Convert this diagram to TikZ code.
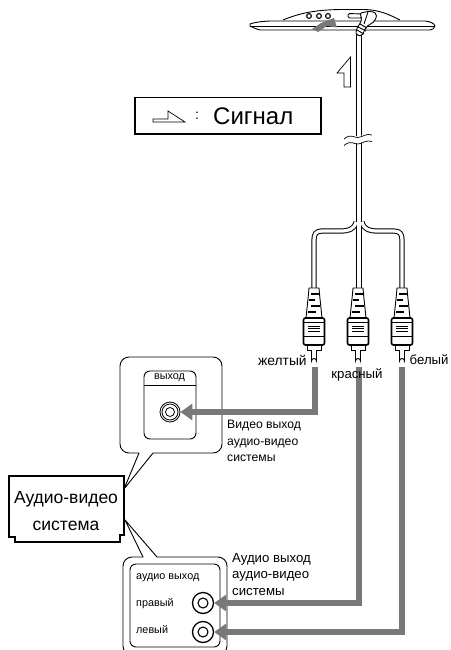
\documentclass[tikz,border=0pt]{standalone}
\usepackage{fontspec}
\setmainfont{Liberation Sans}
\usetikzlibrary{arrows.meta}
\definecolor{sig}{gray}{0.47}
\tikzset{
  lbl/.style={inner sep=0pt,anchor=west,font=\fontsize{13.2}{15}\selectfont},
  small/.style={inner sep=0pt,anchor=west,font=\fontsize{10.8}{12}\selectfont},
  signal/.style={draw=sig,line width=6pt,-{Triangle[length=12pt,width=16pt]}},
  line/.style={draw=black,line width=0.9pt},
  jackc/.style={circle,draw=black,line width=0.8pt,inner sep=0pt},
  plugpic/.pic={
    \draw[line,fill=white,line join=round] (-5,0) -- (5,0) -- (5.5,6) -- (8,30) -- (-8,30) -- (-5.5,6) -- cycle;
    \foreach \yy/\a/\b in {6/-3/5,12/-5/1,18/-3/6,24/-6/2} \draw[line width=1.4pt] (\a,\yy) -- (\b,\yy);
    \draw[line width=1.6pt,fill=white,rounded corners=2pt] (-10.5,30) -- (10.5,30) -- (10.5,57) -- (-10.5,57) -- cycle;
    \foreach \yy in {38,40.5,43} \draw[line width=0.9pt] (-6,\yy) -- (6,\yy);
    \draw[line] (-10.5,34) -- (10.5,34) (-10.5,48) -- (10.5,48);
    \draw[line,fill=white] (-7,57) -- (7,57) -- (7,62) -- (-7,62) -- cycle;
    \draw[line,fill=white] (-2.5,62) -- (-2.5,73) arc[start angle=180,end angle=360,radius=2.5] -- (2.5,62);
  }
}
\begin{document}
\begin{tikzpicture}[x=1pt,y=-1pt]
\useasboundingbox (0,0) rectangle (450,650);
\fill[white] (0,0) rectangle (450,650);

% device
\draw[line,fill=white] (283,20) .. controls (300,13) and (315,10) .. (340,9.5) -- (365,9.5) .. controls (380,10) and (390,15) .. (400,20);
\draw[line,fill=white,line join=round] (250,24) .. controls (254,22.5) and (260,21.5) .. (270,21) -- (425,21) .. controls (430,21.5) and (434,23) .. (435,26) .. controls (434,28) and (433,30) .. (430,30) -- (260,30) .. controls (256,29) and (252,27) .. (250,26) -- cycle;
\draw[line] (250,26.5) -- (435,26.5);
\foreach \cx in {309,319,328} \draw[line width=1.1pt,fill=white] (\cx,16) circle[radius=2.4];
\fill[sig] (312,29) -- (318,32) -- (327,26) -- (337,27.5) -- (334,18) -- (321,23) -- cycle;
% cable
\path[draw=black,line width=5.2pt] (359,34) -- (359,138);
\path[draw=white,line width=3.2pt] (359,34) -- (359,138);
% connector
\draw[line,fill=white,rounded corners=1.5pt] (348,13.5) -- (362,14) -- (362,18) -- (348,18) -- cycle;
\draw[line,fill=white,rounded corners=2pt] (360,13) -- (371,11) -- (377,14) -- (375,21) -- (366,27) -- (362,36) -- (356,35) -- (356,30) -- (362,20) -- cycle;
\draw[line] (368,12) -- (364,24) (357,30) -- (364,34) (358,27) -- (366,31) (360,24) -- (367,28);
% up arrow symbol
\draw[line width=0.7pt,line join=miter] (350.5,57) -- (337,73) -- (344,73) -- (344,87) -- (350.5,87) -- cycle;
% legend
\draw[line width=1.4pt] (135,97.5) rectangle (321,134);
\draw[line width=0.7pt] (153,122) -- (185,122) -- (168,111) -- (168,119) -- (153,119) -- cycle;
\node[inner sep=0pt,font=\fontsize{14}{16}\selectfont] (colon) at (197,116) {:};
\node[inner sep=0pt,anchor=west,font=\fontsize{24}{26}\selectfont] (sigtext) at (213,116) {Сигнал};
% lower cable and break
\path[draw=black,line width=5.2pt] (359,142) -- (359,290);
\path[draw=black,line width=5.2pt,line join=round] (356,222) .. controls (354,230) and (348,231) .. (340,231) -- (322,231) .. controls (316,231) and (314,234) .. (314,240) -- (314,290);
\path[draw=black,line width=5.2pt,line join=round] (362,222) .. controls (364,230) and (370,231) .. (378,231) -- (394,231) .. controls (400,231) and (402,234) .. (402,240) -- (402,290);
\path[draw=white,line width=3.2pt,line join=round] (356,222) .. controls (354,230) and (348,231) .. (340,231) -- (322,231) .. controls (316,231) and (314,234) .. (314,240) -- (314,290);
\path[draw=white,line width=3.2pt,line join=round] (362,222) .. controls (364,230) and (370,231) .. (378,231) -- (394,231) .. controls (400,231) and (402,234) .. (402,240) -- (402,290);
\path[draw=white,line width=3.2pt] (359,142) -- (359,290);
\fill[white] (344,138) -- (372,134) -- (372,141) -- (344,145) -- cycle;
\draw[line width=0.7pt] (344,139) .. controls (351,133) and (354,138) .. (358,137.5) .. controls (363,137) and (366,133) .. (372,135);
\draw[line width=0.7pt] (344,145.5) .. controls (351,139.5) and (354,144.5) .. (358,144) .. controls (363,143.5) and (366,139.5) .. (372,141.5);
% plugs
\pic at (314,288) {plugpic};
\pic at (358,288) {plugpic};
\pic at (402,288) {plugpic};
% labels near plugs
\node[lbl,font=\fontsize{13.8}{15}\selectfont] (ly) at (258,360) {желтый};
\node[lbl] (lw) at (409.5,360) {белый};
% callout 1
\draw[line,fill=white,rounded corners=9pt] (139,453) -- (120,453) -- (120,357) -- (222,357) -- (222,453) -- (153,453);
\draw[line,line join=miter] (139,453) -- (124,489) -- (153,453);
\draw[line,rounded corners=6pt] (144,385) -- (144,371) -- (196,371) -- (196,385);
\draw[line,rounded corners=6pt] (144,385) -- (144,439) -- (196,439) -- (196,385);
\draw[line] (144,385) -- (196,385);
\node[small,anchor=center] (lout) at (169.5,378) {выход};
\node[jackc,minimum size=20pt] (j1) at (170,412) {};
\node[jackc,minimum size=16pt] (j1b) at (170,412) {};
\node[jackc,minimum size=9pt] (j1c) at (170,412) {};
% callout 2
\draw[line,rounded corners=9pt] (143,557) -- (123,557) -- (123,655) -- (227,655) -- (227,557) -- (157,557);
\draw[line,line join=miter] (143,557) -- (125,520) -- (157,557);
\draw[line,rounded corners=6pt] (130,647) -- (130,564) -- (220,564) -- (220,647) -- cycle;
\node[small] (la) at (136,578) {аудио выход};
\node[small] (lr) at (136,604) {правый};
\node[small] (ll) at (136,630) {левый};
\node[jackc,line width=1.3pt,minimum size=21pt] (j2) at (203,603) {};
\node[jackc,line width=1.1pt,minimum size=10pt] (j2c) at (203,603) {};
\node[jackc,line width=1.3pt,minimum size=21pt] (j3) at (203,632) {};
\node[jackc,line width=1.1pt,minimum size=10pt] (j3c) at (203,632) {};
% AV box
\draw[line width=2pt,fill=white,line join=miter] (9,476) -- (124,476) -- (124,535) -- (120,535) -- (120,542) -- (15,542) -- (15,537) -- (9,537) -- cycle;
\node[inner sep=0pt,align=center,font=\fontsize{17.5}{27}\selectfont] (av) at (66,511) {Аудио-видео\\система};
% signal arrows
\coordinate (v0) at (314.5,367);
\coordinate (a0) at (359,367);
\coordinate (b0) at (402,367);
\path[signal] (v0) -- (314.5,412) -- (j1.east);
\path[signal] (a0) -- (359,603) -- (j2.east);
\path[signal] (b0) -- (402,632) -- (j3.east);
% labels
\node[inner sep=0pt,font=\fontsize{13.2}{15}\selectfont] (lred) at (357,375) {красный};
\node[lbl,align=left,font=\fontsize{12.2}{16.5}\selectfont] (t1) at (227,441) {Видео выход\\аудио-видео\\системы};
\node[lbl,align=left,font=\fontsize{13.2}{16.5}\selectfont] (t2) at (232,574.5) {Аудио выход\\аудио-видео\\системы};
\end{tikzpicture}
\end{document}
